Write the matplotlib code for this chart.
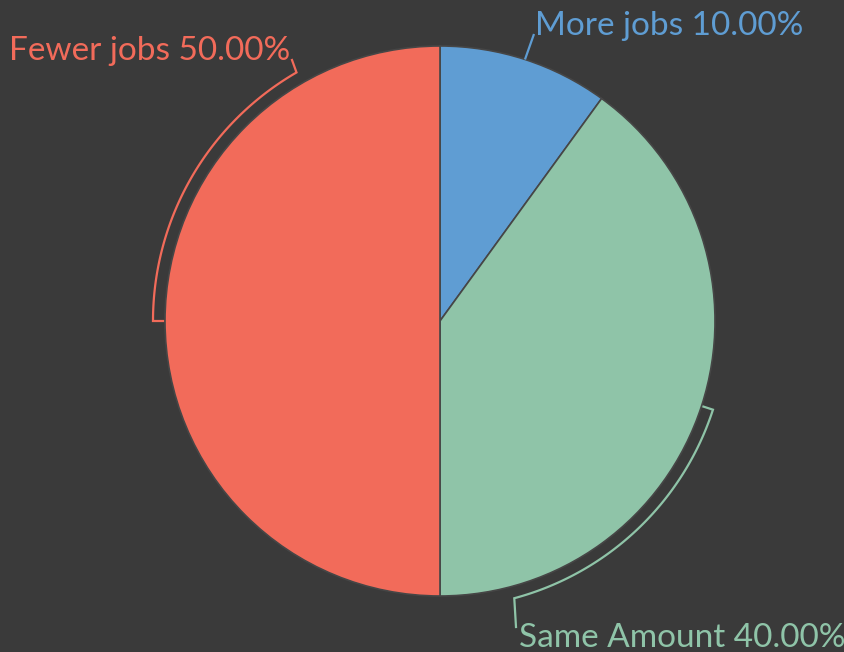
import numpy as np
import matplotlib.pyplot as plt

labels = ["More jobs", "Same Amount", "Fewer jobs"]
shares = [10.0, 40.0, 50.0]
colors = ["#5f9dd3", "#8fc4a8", "#f26b5a"]

BG = "#3a3a3a"
W, H = 844, 652
cx, cy, R = 440, H - 321, 275

plt.rcParams['font.family'] = ['Lato', 'DejaVu Sans']

fig = plt.figure(figsize=(W / 100, H / 100), dpi=100, facecolor=BG)
ax = fig.add_axes([0, 0, 1, 1])
ax.set_facecolor(BG)

wedges, _ = ax.pie(shares, colors=colors, startangle=90, counterclock=False,
                   center=(cx, cy), radius=R, frame=True,
                   wedgeprops=dict(edgecolor="#464646", linewidth=1.2))
ax.set_xlim(0, W)
ax.set_ylim(0, H)
ax.set_aspect('equal')
ax.axis('off')


def pt(ang, r):
    a = np.radians(ang)
    return cx + r * np.cos(a), cy + r * np.sin(a)


# label placement: (end angle of bracket arc, tick end, text anchor, alignment)
layout = {
    "More jobs": (None, (534, H - 34), (535, H - 35), 'left'),
    "Same Amount": (-75, (516, H - 627), (519, H - 647), 'left'),
    "Fewer jobs": (120, (292, H - 60), (290, H - 60), 'right'),
}

r_in, r_out = 277, 287
for w, name, val, col in zip(wedges, labels, shares, colors):
    mid = (w.theta1 + w.theta2) / 2
    end_ang, tick_end, txt_xy, ha = layout[name]
    if end_ang is None:
        x0, y0 = pt(mid, R)
        ax.plot([x0, tick_end[0]], [y0, tick_end[1]], color=col, lw=1.6,
                solid_capstyle='butt')
    else:
        end_ang = mid + ((end_ang - mid + 180) % 360 - 180)
        ang = np.linspace(mid, end_ang, 100)
        xs = [pt(mid, r_in)[0]] + [pt(a, r_out)[0] for a in ang] + [tick_end[0]]
        ys = [pt(mid, r_in)[1]] + [pt(a, r_out)[1] for a in ang] + [tick_end[1]]
        ax.plot(xs, ys, color=col, lw=1.6, solid_joinstyle='miter')
    ax.text(txt_xy[0], txt_xy[1], f"{name} {val:.2f}%", color=col,
            fontsize=24, ha=ha, va='baseline')

fig.savefig("out.png", dpi=100, facecolor=BG)
